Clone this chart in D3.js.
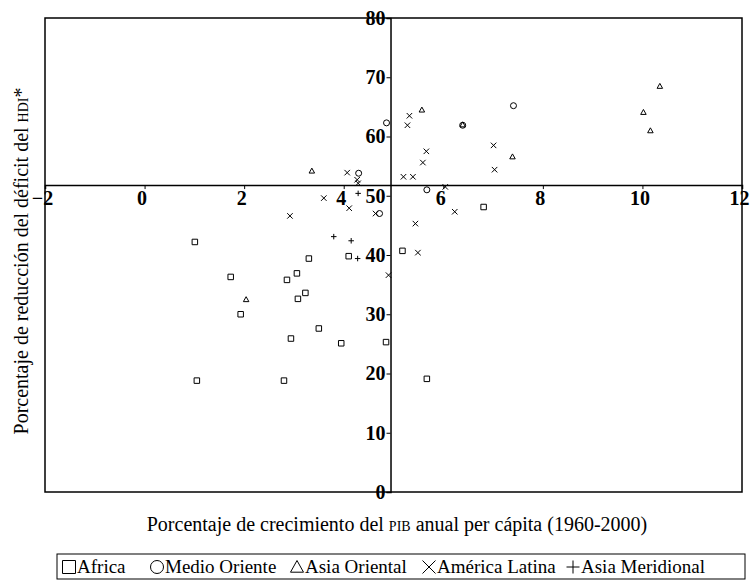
<!DOCTYPE html>
<html>
<head>
<meta charset="utf-8">
<script src="https://cdn.jsdelivr.net/npm/d3@7"></script>
<style>
  body { margin: 0; background: #fff; }
  svg text { font-family: "Liberation Serif", "Times New Roman", serif; }
</style>
</head>
<body>
<svg id="chart" width="750" height="586" font-family="Liberation Serif, serif"></svg>
<script>
// puntos por region: [crecimiento PIB, reduccion deficit HDI]
var africa = [[1.01,42.2],[4.10,39.8],[3.30,39.4],[1.73,36.3],[3.06,36.9],[2.86,35.8],[3.23,33.6],
  [3.08,32.6],[1.93,30.0],[3.50,27.6],[2.94,25.9],[3.95,25.1],[4.85,25.3],[1.05,18.8],[2.80,18.8],
  [5.18,40.7],[6.81,48.1],[5.67,19.1]];
var medioOriente = [[4.30,53.8],[4.86,62.3],[4.72,47.0],[5.67,51.0],[7.41,65.2],[6.39,61.9]];
var asiaOriental = [[3.36,54.2],[2.04,32.5],[5.57,64.5],[10.35,68.5],[10.02,64.1],[6.39,62.0],
  [10.16,61.0],[7.39,56.6]];
var americaLatina = [[4.07,53.9],[4.27,52.7],[4.29,52.1],[3.60,49.6],[4.11,47.9],[2.92,46.6],
  [4.64,47.0],[4.90,36.6],[5.20,53.2],[5.39,53.2],[7.03,54.4],[6.04,51.5],[6.23,47.3],[5.44,45.3],
  [5.49,40.4],[5.32,63.5],[5.28,61.9],[7.01,58.5],[5.66,57.5],[5.59,55.6]];
var asiaMeridional = [[4.29,50.4],[3.80,43.1],[4.15,42.4],[4.28,39.4]];

var xTicks = [-2, 0, 2, 4, 6, 8, 10, 12];
var yTicks = [0, 10, 20, 30, 40, 50, 60, 70, 80];
var xCross = 4.94, yCross = 51.8;   // los ejes se cruzan en las medias

var groups = [
  {name: 'Africa', data: africa, sym: 'square'},
  {name: 'Medio Oriente', data: medioOriente, sym: 'circle'},
  {name: 'Asia Oriental', data: asiaOriental, sym: 'triangle'},
  {name: 'América Latina', data: americaLatina, sym: 'cross'},
  {name: 'Asia Meridional', data: asiaMeridional, sym: 'plus'}
];

var svg = d3.select('#chart');
var margin = {top: 18, right: 8, bottom: 94, left: 45},
    width = 750 - margin.left - margin.right,
    height = 586 - margin.top - margin.bottom;

var x = d3.scaleLinear().domain([-2, 12]).range([margin.left, margin.left + width]);
var y = d3.scaleLinear().domain([0, 80]).range([margin.top + height, margin.top]);

// marcadores como paths de tamaño s
function symbolPath(sym, s) {
  var h = s / 2;
  switch (sym) {
    case 'square': return 'M' + -h + ',' + -h + 'H' + h + 'V' + h + 'H' + -h + 'Z';
    case 'circle': return 'M' + -h + ',0A' + h + ',' + h + ' 0 1,0 ' + h + ',0A' + h + ',' + h + ' 0 1,0 ' + -h + ',0Z';
    case 'triangle': return 'M0,' + -h + 'L' + h + ',' + (h * 0.8) + 'H' + -h + 'Z';
    case 'cross': return 'M' + -h + ',' + -h + 'L' + h + ',' + h + 'M' + h + ',' + -h + 'L' + -h + ',' + h;
    case 'plus': return 'M' + -h + ',0H' + h + 'M0,' + -h + 'V' + h;
  }
}

// marco
svg.append('rect')
  .attr('x', margin.left).attr('y', margin.top)
  .attr('width', width).attr('height', height)
  .attr('fill', 'none').attr('stroke', '#000').attr('stroke-width', 1.5);

// eje x en y = media
var xAxis = svg.append('g')
  .attr('transform', 'translate(0,' + y(yCross) + ')')
  .call(d3.axisBottom(x).tickValues(xTicks).tickSize(4).tickPadding(2).tickFormat(d3.format('d')));
xAxis.attr('font-family', null);
xAxis.select('.domain').attr('stroke-width', 1.5);
xAxis.selectAll('text')
  .attr('dx', -3)
  .attr('font-size', 20).attr('font-weight', 'bold').attr('fill', '#000');

// eje y en x = media
var yAxis = svg.append('g')
  .attr('transform', 'translate(' + x(xCross) + ',0)')
  .call(d3.axisLeft(y).tickValues(yTicks).tickSize(4).tickPadding(1));
yAxis.attr('font-family', null);
yAxis.select('.domain').attr('stroke-width', 1.5);
yAxis.selectAll('text')
  .attr('font-size', 20).attr('font-weight', 'bold').attr('fill', '#000');

// puntos
groups.forEach(function(g) {
  svg.append('g').selectAll('path')
    .data(g.data)
    .enter().append('path')
    .attr('transform', function(d) { return 'translate(' + x(d[0]) + ',' + y(d[1]) + ')'; })
    .attr('d', symbolPath(g.sym, g.sym === 'circle' ? 6 : 5.5))
    .attr('fill', 'none').attr('stroke', '#000').attr('stroke-width', 1);
});

// titulos de ejes
var xt = svg.append('text')
  .attr('x', 397).attr('y', 531)
  .attr('text-anchor', 'middle').attr('font-size', 20);
xt.append('tspan').text('Porcentaje de crecimiento del ');
xt.append('tspan').attr('font-size', 14).text('PIB');
xt.append('tspan').text(' anual per cápita (1960-2000)');

var yt = svg.append('text')
  .attr('transform', 'translate(28,261) rotate(-90)')
  .attr('text-anchor', 'middle').attr('font-size', 20);
yt.append('tspan').text('Porcentaje de reducción del déficit del ');
yt.append('tspan').attr('font-size', 14).text('HDI');
yt.append('tspan').text('*');

// leyenda
svg.append('rect')
  .attr('x', 57).attr('y', 554).attr('width', 688).attr('height', 25)
  .attr('fill', 'none').attr('stroke', '#000').attr('stroke-width', 1);

var legendX = [69, 157, 297, 429, 573];
groups.forEach(function(g, i) {
  var item = svg.append('g').attr('transform', 'translate(' + legendX[i] + ',567)');
  item.append('path')
    .attr('d', symbolPath(g.sym, 13))
    .attr('fill', 'none').attr('stroke', '#000').attr('stroke-width', 1);
  item.append('text')
    .attr('x', 8).attr('y', 6)
    .attr('font-size', 19)
    .text(g.name);
});
</script>
</body>
</html>
